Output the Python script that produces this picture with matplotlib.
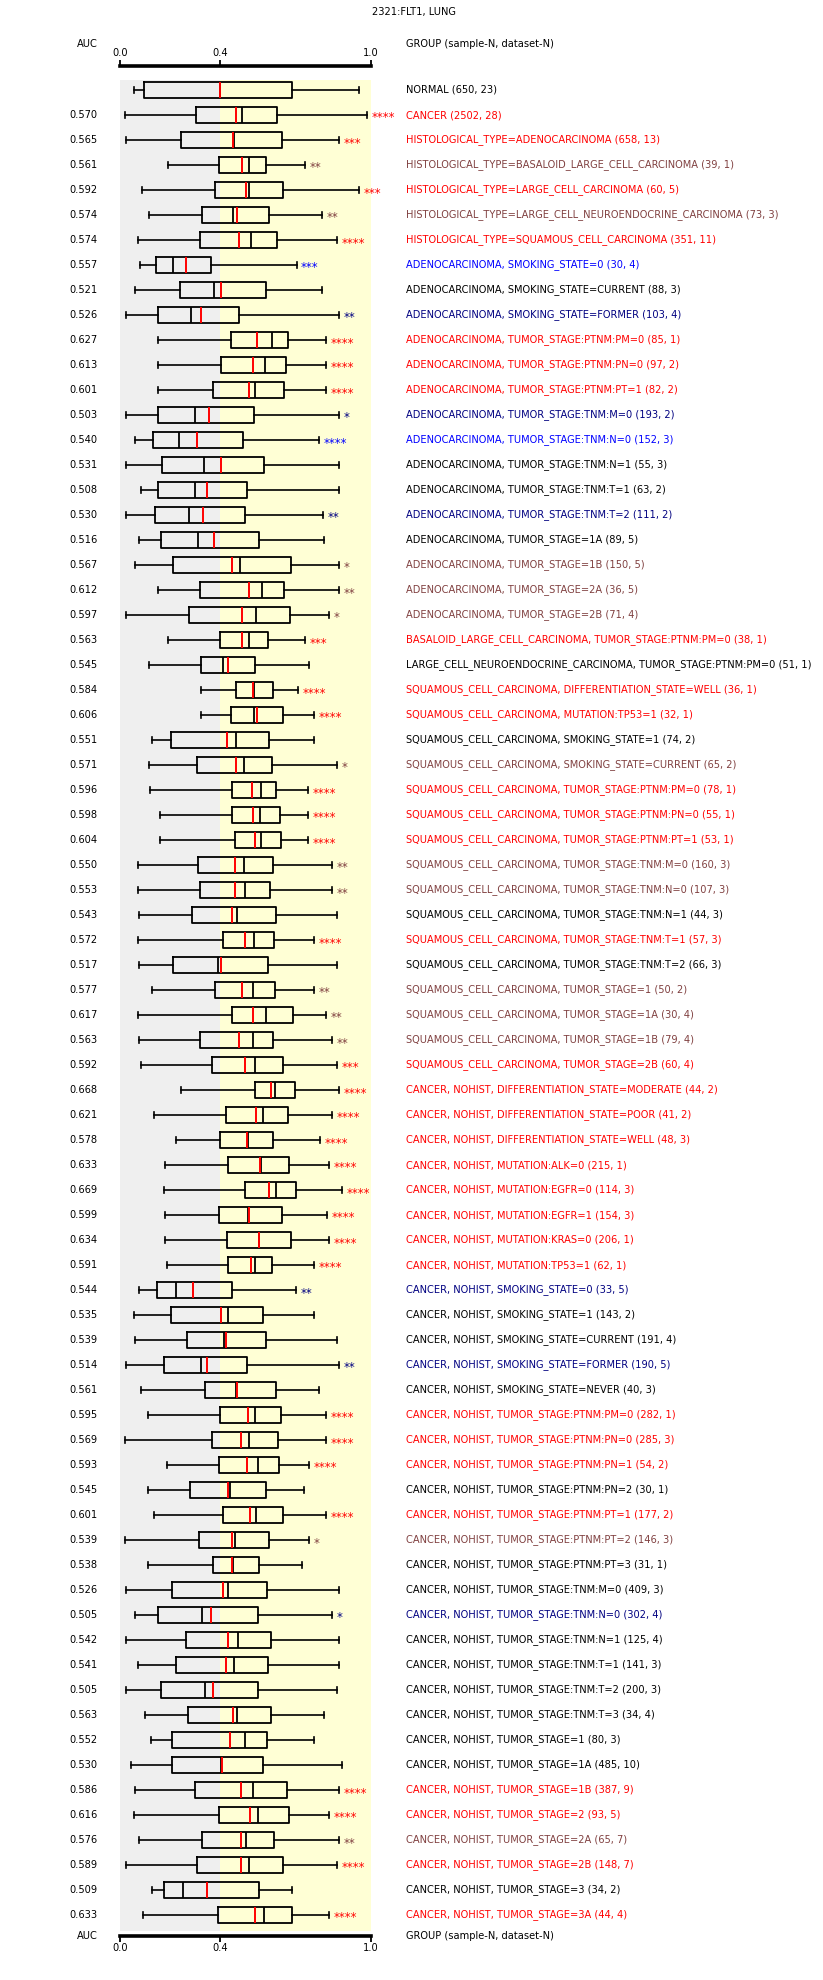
import numpy as np
import matplotlib
matplotlib.use("Agg")
import matplotlib.pyplot as plt

# ----------------------- datos ------------------------

titulo = "2321:FLT1, LUNG"

grupos = [
    "NORMAL (650, 23)",
    "CANCER (2502, 28)",
    "HISTOLOGICAL_TYPE=ADENOCARCINOMA (658, 13)",
    "HISTOLOGICAL_TYPE=BASALOID_LARGE_CELL_CARCINOMA (39, 1)",
    "HISTOLOGICAL_TYPE=LARGE_CELL_CARCINOMA (60, 5)",
    "HISTOLOGICAL_TYPE=LARGE_CELL_NEUROENDOCRINE_CARCINOMA (73, 3)",
    "HISTOLOGICAL_TYPE=SQUAMOUS_CELL_CARCINOMA (351, 11)",
    "ADENOCARCINOMA, SMOKING_STATE=0 (30, 4)",
    "ADENOCARCINOMA, SMOKING_STATE=CURRENT (88, 3)",
    "ADENOCARCINOMA, SMOKING_STATE=FORMER (103, 4)",
    "ADENOCARCINOMA, TUMOR_STAGE:PTNM:PM=0 (85, 1)",
    "ADENOCARCINOMA, TUMOR_STAGE:PTNM:PN=0 (97, 2)",
    "ADENOCARCINOMA, TUMOR_STAGE:PTNM:PT=1 (82, 2)",
    "ADENOCARCINOMA, TUMOR_STAGE:TNM:M=0 (193, 2)",
    "ADENOCARCINOMA, TUMOR_STAGE:TNM:N=0 (152, 3)",
    "ADENOCARCINOMA, TUMOR_STAGE:TNM:N=1 (55, 3)",
    "ADENOCARCINOMA, TUMOR_STAGE:TNM:T=1 (63, 2)",
    "ADENOCARCINOMA, TUMOR_STAGE:TNM:T=2 (111, 2)",
    "ADENOCARCINOMA, TUMOR_STAGE=1A (89, 5)",
    "ADENOCARCINOMA, TUMOR_STAGE=1B (150, 5)",
    "ADENOCARCINOMA, TUMOR_STAGE=2A (36, 5)",
    "ADENOCARCINOMA, TUMOR_STAGE=2B (71, 4)",
    "BASALOID_LARGE_CELL_CARCINOMA, TUMOR_STAGE:PTNM:PM=0 (38, 1)",
    "LARGE_CELL_NEUROENDOCRINE_CARCINOMA, TUMOR_STAGE:PTNM:PM=0 (51, 1)",
    "SQUAMOUS_CELL_CARCINOMA, DIFFERENTIATION_STATE=WELL (36, 1)",
    "SQUAMOUS_CELL_CARCINOMA, MUTATION:TP53=1 (32, 1)",
    "SQUAMOUS_CELL_CARCINOMA, SMOKING_STATE=1 (74, 2)",
    "SQUAMOUS_CELL_CARCINOMA, SMOKING_STATE=CURRENT (65, 2)",
    "SQUAMOUS_CELL_CARCINOMA, TUMOR_STAGE:PTNM:PM=0 (78, 1)",
    "SQUAMOUS_CELL_CARCINOMA, TUMOR_STAGE:PTNM:PN=0 (55, 1)",
    "SQUAMOUS_CELL_CARCINOMA, TUMOR_STAGE:PTNM:PT=1 (53, 1)",
    "SQUAMOUS_CELL_CARCINOMA, TUMOR_STAGE:TNM:M=0 (160, 3)",
    "SQUAMOUS_CELL_CARCINOMA, TUMOR_STAGE:TNM:N=0 (107, 3)",
    "SQUAMOUS_CELL_CARCINOMA, TUMOR_STAGE:TNM:N=1 (44, 3)",
    "SQUAMOUS_CELL_CARCINOMA, TUMOR_STAGE:TNM:T=1 (57, 3)",
    "SQUAMOUS_CELL_CARCINOMA, TUMOR_STAGE:TNM:T=2 (66, 3)",
    "SQUAMOUS_CELL_CARCINOMA, TUMOR_STAGE=1 (50, 2)",
    "SQUAMOUS_CELL_CARCINOMA, TUMOR_STAGE=1A (30, 4)",
    "SQUAMOUS_CELL_CARCINOMA, TUMOR_STAGE=1B (79, 4)",
    "SQUAMOUS_CELL_CARCINOMA, TUMOR_STAGE=2B (60, 4)",
    "CANCER, NOHIST, DIFFERENTIATION_STATE=MODERATE (44, 2)",
    "CANCER, NOHIST, DIFFERENTIATION_STATE=POOR (41, 2)",
    "CANCER, NOHIST, DIFFERENTIATION_STATE=WELL (48, 3)",
    "CANCER, NOHIST, MUTATION:ALK=0 (215, 1)",
    "CANCER, NOHIST, MUTATION:EGFR=0 (114, 3)",
    "CANCER, NOHIST, MUTATION:EGFR=1 (154, 3)",
    "CANCER, NOHIST, MUTATION:KRAS=0 (206, 1)",
    "CANCER, NOHIST, MUTATION:TP53=1 (62, 1)",
    "CANCER, NOHIST, SMOKING_STATE=0 (33, 5)",
    "CANCER, NOHIST, SMOKING_STATE=1 (143, 2)",
    "CANCER, NOHIST, SMOKING_STATE=CURRENT (191, 4)",
    "CANCER, NOHIST, SMOKING_STATE=FORMER (190, 5)",
    "CANCER, NOHIST, SMOKING_STATE=NEVER (40, 3)",
    "CANCER, NOHIST, TUMOR_STAGE:PTNM:PM=0 (282, 1)",
    "CANCER, NOHIST, TUMOR_STAGE:PTNM:PN=0 (285, 3)",
    "CANCER, NOHIST, TUMOR_STAGE:PTNM:PN=1 (54, 2)",
    "CANCER, NOHIST, TUMOR_STAGE:PTNM:PN=2 (30, 1)",
    "CANCER, NOHIST, TUMOR_STAGE:PTNM:PT=1 (177, 2)",
    "CANCER, NOHIST, TUMOR_STAGE:PTNM:PT=2 (146, 3)",
    "CANCER, NOHIST, TUMOR_STAGE:PTNM:PT=3 (31, 1)",
    "CANCER, NOHIST, TUMOR_STAGE:TNM:M=0 (409, 3)",
    "CANCER, NOHIST, TUMOR_STAGE:TNM:N=0 (302, 4)",
    "CANCER, NOHIST, TUMOR_STAGE:TNM:N=1 (125, 4)",
    "CANCER, NOHIST, TUMOR_STAGE:TNM:T=1 (141, 3)",
    "CANCER, NOHIST, TUMOR_STAGE:TNM:T=2 (200, 3)",
    "CANCER, NOHIST, TUMOR_STAGE:TNM:T=3 (34, 4)",
    "CANCER, NOHIST, TUMOR_STAGE=1 (80, 3)",
    "CANCER, NOHIST, TUMOR_STAGE=1A (485, 10)",
    "CANCER, NOHIST, TUMOR_STAGE=1B (387, 9)",
    "CANCER, NOHIST, TUMOR_STAGE=2 (93, 5)",
    "CANCER, NOHIST, TUMOR_STAGE=2A (65, 7)",
    "CANCER, NOHIST, TUMOR_STAGE=2B (148, 7)",
    "CANCER, NOHIST, TUMOR_STAGE=3 (34, 2)",
    "CANCER, NOHIST, TUMOR_STAGE=3A (44, 4)",
]

auc = ["", "0.570", "0.565", "0.561", "0.592", "0.574", "0.574", "0.557", "0.521", "0.526",
       "0.627", "0.613", "0.601", "0.503", "0.540", "0.531", "0.508", "0.530", "0.516", "0.567",
       "0.612", "0.597", "0.563", "0.545", "0.584", "0.606", "0.551", "0.571", "0.596", "0.598",
       "0.604", "0.550", "0.553", "0.543", "0.572", "0.517", "0.577", "0.617", "0.563", "0.592",
       "0.668", "0.621", "0.578", "0.633", "0.669", "0.599", "0.634", "0.591", "0.544", "0.535",
       "0.539", "0.514", "0.561", "0.595", "0.569", "0.593", "0.545", "0.601", "0.539", "0.538",
       "0.526", "0.505", "0.542", "0.541", "0.505", "0.563", "0.552", "0.530", "0.586", "0.616",
       "0.576", "0.589", "0.509", "0.633"]

estrellas = ["", "****", "***", "**", "***", "**", "****", "***", "", "**",
             "****", "****", "****", "*", "****", "", "", "**", "", "*",
             "**", "*", "***", "", "****", "****", "", "*", "****", "****",
             "****", "**", "**", "", "****", "", "**", "**", "**", "***",
             "****", "****", "****", "****", "****", "****", "****", "****", "**", "",
             "", "**", "", "****", "****", "****", "", "****", "*", "",
             "", "*", "", "", "", "", "", "", "****", "****",
             "**", "****", "", "****"]

# + = mayor que NORMAL, - = menor
direccion = ["", "+", "+", "+", "+", "+", "+", "-", "", "-",
             "+", "+", "+", "-", "-", "", "", "-", "", "+",
             "+", "+", "+", "", "+", "+", "", "+", "+", "+",
             "+", "+", "+", "", "+", "", "+", "+", "+", "+",
             "+", "+", "+", "+", "+", "+", "+", "+", "-", "",
             "", "-", "", "+", "+", "+", "", "+", "+", "",
             "", "-", "", "", "", "", "", "", "+", "+",
             "+", "+", "", "+"]

bigote_inf = [0.057, 0.021, 0.025, 0.190, 0.089, 0.114, 0.073, 0.078, 0.061, 0.025,
              0.150, 0.150, 0.150, 0.025, 0.061, 0.025, 0.085, 0.025, 0.074, 0.061,
              0.153, 0.025, 0.190, 0.114, 0.324, 0.324, 0.129, 0.114, 0.121, 0.161,
              0.161, 0.073, 0.073, 0.077, 0.073, 0.077, 0.129, 0.073, 0.077, 0.085,
              0.245, 0.137, 0.225, 0.181, 0.177, 0.181, 0.181, 0.189, 0.077, 0.057,
              0.061, 0.025, 0.085, 0.113, 0.021, 0.189, 0.113, 0.137, 0.021, 0.113,
              0.025, 0.061, 0.025, 0.073, 0.025, 0.101, 0.125, 0.045, 0.061, 0.057,
              0.077, 0.025, 0.129, 0.090]
q1 = [0.097, 0.305, 0.245, 0.396, 0.380, 0.328, 0.320, 0.145, 0.241, 0.153,
      0.444, 0.404, 0.372, 0.153, 0.133, 0.169, 0.153, 0.141, 0.165, 0.213,
      0.320, 0.277, 0.400, 0.324, 0.464, 0.444, 0.205, 0.309, 0.448, 0.448,
      0.460, 0.313, 0.320, 0.289, 0.412, 0.213, 0.380, 0.448, 0.320, 0.368,
      0.540, 0.424, 0.400, 0.432, 0.500, 0.396, 0.428, 0.432, 0.149, 0.205,
      0.269, 0.177, 0.340, 0.400, 0.368, 0.396, 0.281, 0.412, 0.316, 0.372,
      0.209, 0.153, 0.265, 0.225, 0.165, 0.273, 0.209, 0.209, 0.301, 0.396,
      0.328, 0.309, 0.177, 0.392]
mediana = [0.400, 0.488, 0.456, 0.516, 0.516, 0.452, 0.521, 0.213, 0.376, 0.285,
           0.608, 0.580, 0.540, 0.298, 0.237, 0.336, 0.298, 0.277, 0.313, 0.480,
           0.568, 0.544, 0.516, 0.412, 0.536, 0.536, 0.464, 0.496, 0.564, 0.560,
           0.564, 0.496, 0.500, 0.468, 0.536, 0.392, 0.532, 0.584, 0.532, 0.540,
           0.620, 0.572, 0.512, 0.564, 0.624, 0.512, 0.556, 0.540, 0.225, 0.432,
           0.416, 0.324, 0.464, 0.540, 0.516, 0.552, 0.440, 0.544, 0.460, 0.452,
           0.432, 0.328, 0.472, 0.456, 0.340, 0.468, 0.500, 0.404, 0.532, 0.552,
           0.504, 0.516, 0.253, 0.576]
media = [0.400, 0.464, 0.449, 0.485, 0.501, 0.468, 0.476, 0.265, 0.404, 0.324,
         0.548, 0.532, 0.516, 0.356, 0.309, 0.404, 0.348, 0.332, 0.376, 0.448,
         0.516, 0.488, 0.488, 0.432, 0.532, 0.548, 0.428, 0.464, 0.528, 0.532,
         0.540, 0.460, 0.460, 0.448, 0.500, 0.404, 0.488, 0.532, 0.476, 0.500,
         0.604, 0.544, 0.508, 0.557, 0.596, 0.516, 0.556, 0.524, 0.293, 0.404,
         0.424, 0.348, 0.467, 0.512, 0.484, 0.508, 0.432, 0.520, 0.448, 0.448,
         0.412, 0.364, 0.432, 0.424, 0.372, 0.452, 0.440, 0.408, 0.484, 0.520,
         0.484, 0.484, 0.348, 0.540]
q3 = [0.688, 0.628, 0.648, 0.584, 0.652, 0.596, 0.628, 0.364, 0.584, 0.476,
      0.672, 0.664, 0.656, 0.536, 0.492, 0.576, 0.508, 0.500, 0.556, 0.684,
      0.656, 0.680, 0.592, 0.540, 0.612, 0.652, 0.596, 0.608, 0.624, 0.640,
      0.644, 0.612, 0.600, 0.624, 0.616, 0.592, 0.620, 0.691, 0.612, 0.652,
      0.699, 0.672, 0.612, 0.676, 0.703, 0.648, 0.684, 0.608, 0.448, 0.572,
      0.584, 0.508, 0.624, 0.644, 0.632, 0.636, 0.584, 0.652, 0.596, 0.556,
      0.588, 0.552, 0.604, 0.592, 0.552, 0.604, 0.588, 0.572, 0.668, 0.676,
      0.616, 0.652, 0.556, 0.685]
bigote_sup = [0.952, 0.987, 0.875, 0.739, 0.955, 0.807, 0.867, 0.705, 0.807, 0.875,
              0.823, 0.823, 0.823, 0.875, 0.795, 0.875, 0.875, 0.811, 0.815, 0.875,
              0.875, 0.835, 0.739, 0.755, 0.711, 0.775, 0.775, 0.867, 0.751, 0.751,
              0.751, 0.847, 0.847, 0.867, 0.775, 0.867, 0.775, 0.823, 0.847, 0.867,
              0.875, 0.847, 0.799, 0.835, 0.887, 0.827, 0.835, 0.775, 0.703, 0.775,
              0.867, 0.875, 0.795, 0.823, 0.823, 0.755, 0.735, 0.823, 0.755, 0.727,
              0.875, 0.847, 0.875, 0.875, 0.867, 0.815, 0.775, 0.887, 0.875, 0.835,
              0.875, 0.867, 0.688, 0.835]

# ----------------------- colores ------------------------

ROJO, MARRON, AZUL, MARINO = "#FF0000", "#804040", "#0000FF", "#000080"

def color_de(est, dirc):
    if not est:
        return "black"
    fuerte = len(est) >= 3
    if dirc == "+":
        return ROJO if fuerte else MARRON
    return AZUL if fuerte else MARINO

colores = [color_de(e, d) for e, d in zip(estrellas, direccion)]

# ----------------------- figura ------------------------

plt.rcParams["font.family"] = ["DejaVu Sans"]

W, H = 823, 1980
fig = plt.figure(figsize=(W / 100, H / 100), dpi=100)

# tamaño de letra: la etiqueta mas larga debe medir ~410 px como en la referencia
largo = max(grupos, key=len)
prueba = fig.text(0, 0, largo, fontsize=7.0)
ancho = prueba.get_window_extent(renderer=fig.canvas.get_renderer()).width
prueba.remove()
FS = 7.0 * 408 / ancho

# 0.0 -> x=120px, 1.0 -> x=370.7px ; fondo de y=80px a y=1931px
ax = fig.add_axes([120 / W, (H - 1931) / H, 250.7 / W, 1851 / H])

n = len(grupos)
pos = np.arange(n)

ax.axvspan(0, 0.4, color="#EFEFEF", zorder=0, lw=0)
ax.axvspan(0.4, 1.0, color="#FFFFD5", zorder=0, lw=0)

stats = []
for i in range(n):
    stats.append(dict(whislo=bigote_inf[i], q1=q1[i], med=mediana[i], mean=media[i],
                      q3=q3[i], whishi=bigote_sup[i]))

ax.bxp(stats, positions=pos, widths=0.64, capwidths=0.22, orientation="horizontal",
       showmeans=True, meanline=True, showfliers=False, patch_artist=False,
       boxprops=dict(color="black", lw=1.3),
       whiskerprops=dict(color="black", lw=1.2),
       capprops=dict(color="black", lw=1.2),
       medianprops=dict(color="black", lw=1.3),
       meanprops=dict(color="red", lw=1.4, linestyle="-"))

ax.set_xlim(0, 1)
ax.set_ylim(n - 1 + 0.64, -0.4)
ax.set_yticks([])
ax.set_facecolor("none")

for lado in ["left", "right"]:
    ax.spines[lado].set_visible(False)
ax.spines["top"].set_position(("outward", 10))
ax.spines["bottom"].set_position(("outward", 3.4))
for lado in ["top", "bottom"]:
    ax.spines[lado].set_bounds(0, 1)
    ax.spines[lado].set_linewidth(2.6)

ax.set_xticks([0, 0.4, 1.0])
ax.set_xticklabels(["0.0", "0.4", "1.0"])
ax.tick_params(axis="x", top=True, labeltop=True, bottom=True, labelbottom=True,
               direction="out", length=4, width=1.3, pad=1.5, labelsize=FS)

for i in range(n):
    if auc[i]:
        ax.text(-0.089, i, auc[i], ha="right", va="center", fontsize=FS)
    ax.text(1.141, i, grupos[i], ha="left", va="center", fontsize=FS, color=colores[i])
    if estrellas[i]:
        ax.text(bigote_sup[i] + 0.016, i + 0.12, estrellas[i], ha="left", va="center",
                fontsize=8.5, color=colores[i])

# encabezados
ax.text(-0.089, -1.84, "AUC", ha="right", va="center", fontsize=FS)
ax.text(1.141, -1.84, "GROUP (sample-N, dataset-N)", ha="left", va="center", fontsize=FS)
ax.text(-0.089, n - 1 + 0.84, "AUC", ha="right", va="center", fontsize=FS)
ax.text(1.141, n - 1 + 0.84, "GROUP (sample-N, dataset-N)", ha="left", va="center", fontsize=FS)
fig.text(413.6 / W, 1 - 12 / H, titulo, ha="center", va="center", fontsize=FS)

fig.savefig("out.png", dpi=100)
